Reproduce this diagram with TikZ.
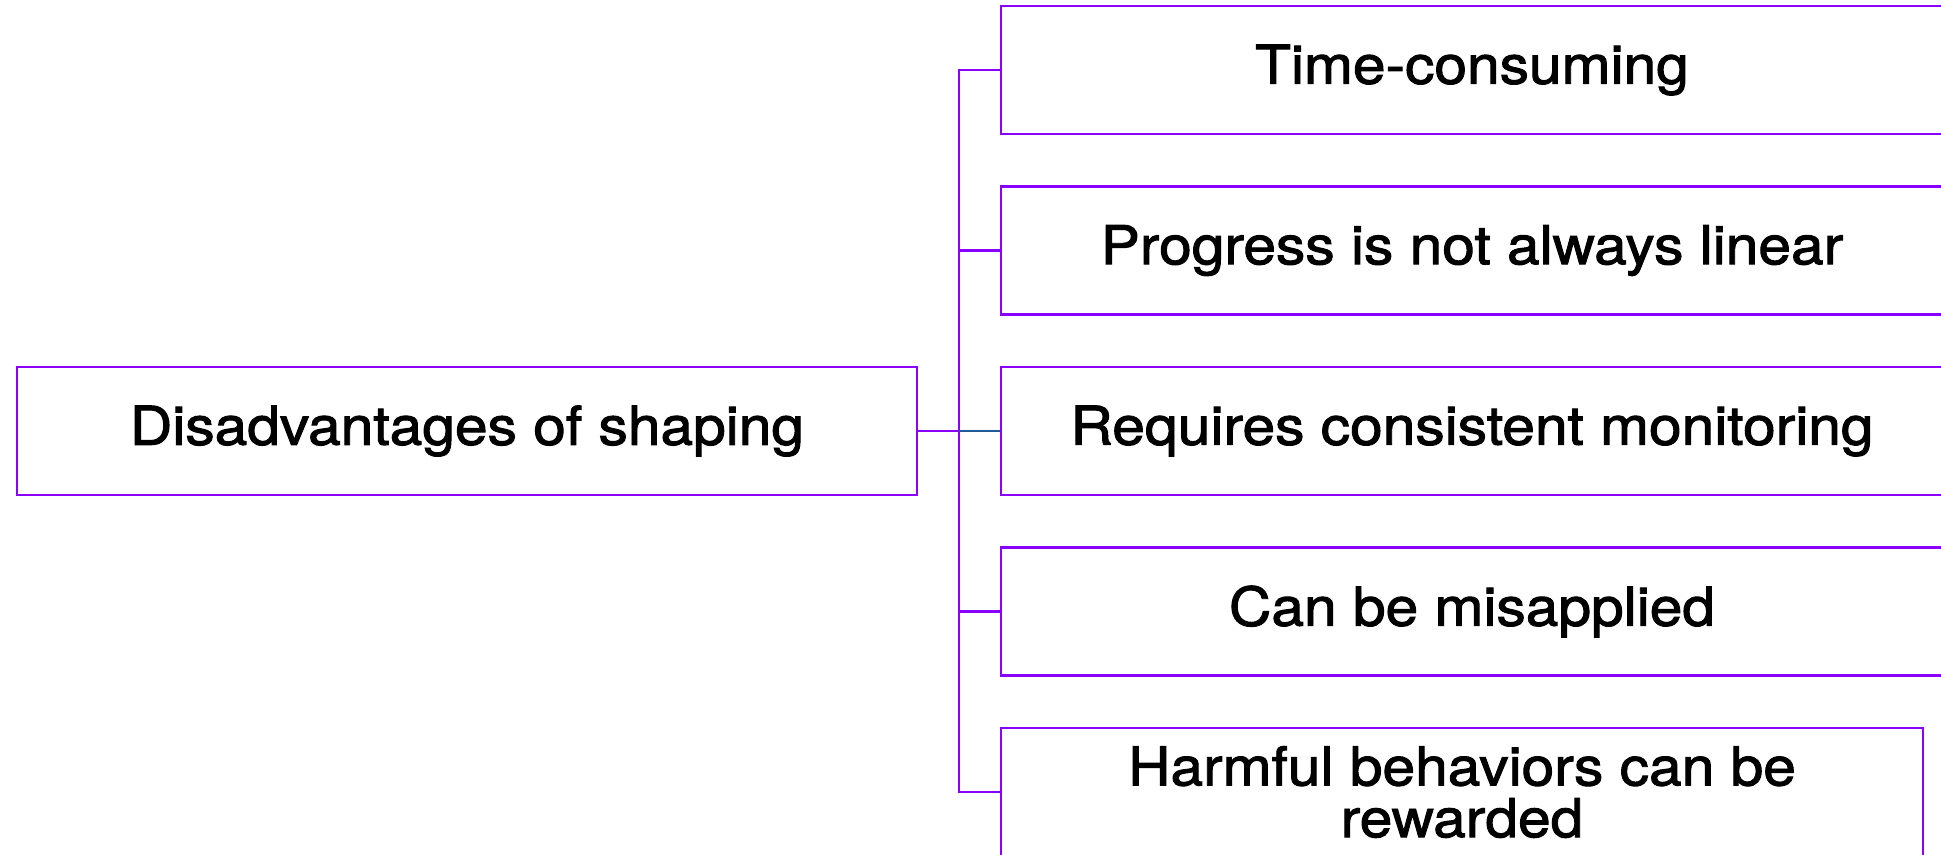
\documentclass[tikz,border=0pt]{standalone}
\usepackage{fontspec}
\setmainfont{TeX Gyre Heros}[FakeBold=1.8,FakeStretch=1.095]
\usepackage{xcolor}
\usetikzlibrary{positioning,calc}

\definecolor{boxviolet}{RGB}{138,0,255}
\definecolor{linkblue}{RGB}{30,92,150}

\begin{document}
\begin{tikzpicture}[
    box/.style={draw=boxviolet,line width=0.6pt,minimum height=1.28cm,inner sep=0pt,
      align=center,font=\fontsize{15.25}{14.7}\selectfont},
    link/.style={draw=boxviolet,line width=0.6pt}
  ]
  \useasboundingbox (0,0) rectangle (19.41,-8.54);
  \clip (0,0) rectangle (19.41,-8.54);

  \node[box,minimum width=9.00cm] (root) at (4.67,-4.31) {Disadvantages of shaping};

  \node[box,minimum width=9.42cm] (c1) at (14.72,-0.70) {Time-consuming};
  \node[box,minimum width=9.42cm] (c2) at (14.72,-2.505) {Progress is not always linear};
  \node[box,minimum width=9.42cm] (c3) at (14.72,-4.31) {Requires consistent monitoring};
  \node[box,minimum width=9.42cm] (c4) at (14.72,-6.115) {Can be misapplied};
  \node[box,minimum width=9.22cm] (c5) at (14.62,-7.92) {Harmful behaviors can be\\rewarded};

  \coordinate (trunk) at (9.59,-4.31);
  \draw[link] (root.east) -- (trunk);
  \draw[link] (c1.west) -- (c1.west -| trunk) -- (c5.west -| trunk) -- (c5.west);
  \draw[link] (c2.west) -- (c2.west -| trunk);
  \draw[link] (c4.west) -- (c4.west -| trunk);
  \draw[link,draw=linkblue] (trunk) -- (c3.west);
\end{tikzpicture}
\end{document}
